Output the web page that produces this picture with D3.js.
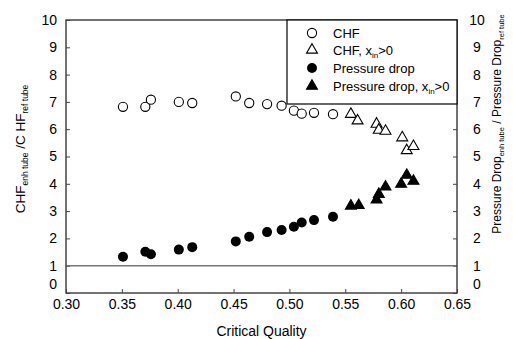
<!DOCTYPE html>
<html>
<head>
<meta charset="utf-8">
<script src="https://cdn.jsdelivr.net/npm/d3@7"></script>
<style>
  body { margin: 0; background: #fff; }
  text { font-family: "Liberation Sans", Arial, sans-serif; fill: #000; }
</style>
</head>
<body>
<div id="chart"></div>
<script>
// critical quality / ratio values
var chfQ = [0.351, 0.371, 0.376, 0.401, 0.413, 0.452, 0.464, 0.480, 0.493, 0.504, 0.511, 0.522, 0.539];
var chfV = [6.82, 6.82, 7.08, 7.00, 6.96, 7.20, 6.96, 6.92, 6.86, 6.68, 6.57, 6.60, 6.55];
var chfInQ = [0.555, 0.561, 0.578, 0.580, 0.586, 0.601, 0.605, 0.611];
var chfInV = [6.55, 6.31, 6.19, 5.97, 5.93, 5.69, 5.22, 5.37];
var dpQ = [0.351, 0.371, 0.376, 0.401, 0.413, 0.452, 0.464, 0.480, 0.493, 0.504, 0.511, 0.522, 0.539];
var dpV = [1.33, 1.51, 1.42, 1.59, 1.68, 1.89, 2.06, 2.23, 2.31, 2.43, 2.58, 2.67, 2.79];
var dpInQ = [0.555, 0.562, 0.578, 0.580, 0.586, 0.600, 0.605, 0.611];
var dpInV = [3.19, 3.21, 3.41, 3.62, 3.89, 3.99, 4.32, 4.10];
var xTicks = [0.30, 0.35, 0.40, 0.45, 0.50, 0.55, 0.60, 0.65];
var yTicks = [0, 1, 2, 3, 4, 5, 6, 7, 8, 9, 10];
var legendLabels = ["CHF", "CHF, x", "Pressure drop", "Pressure drop, x"];

var width = 513, height = 339;
var margin = { left: 66, right: 56, top: 20, bottom: 46 };

var svg = d3.select("#chart").append("svg")
  .attr("width", width)
  .attr("height", height);

var xScale = d3.scaleLinear().domain([0.30, 0.65]).range([margin.left, width - margin.right]);
var yScale = d3.scaleLinear().domain([0, 10]).range([height - margin.bottom, margin.top]);

var axisColor = "#444";

/* axes, ticks point inward */
var xAxis = d3.axisBottom(xScale).tickValues(xTicks).tickFormat(d3.format(".2f")).tickSizeInner(-4).tickSizeOuter(0).tickPadding(6);
var yLeft = d3.axisLeft(yScale).tickValues(yTicks).tickSizeInner(-4).tickSizeOuter(0).tickPadding(9);
var yRight = d3.axisRight(yScale).tickValues(yTicks).tickSizeInner(-4).tickSizeOuter(0).tickPadding(14);

function styleAxis(g) {
  g.select(".domain").remove();
  g.selectAll(".tick line").attr("stroke", axisColor);
  g.selectAll(".tick text").style("font-size", "14px").style("font-family", "Liberation Sans, Arial, sans-serif");
  // the zero label sits a little above its tick so it clears the x labels
  g.selectAll(".tick").filter(d => d === 0).select("text").attr("dy", "-0.3em");
}

svg.append("g").attr("transform", `translate(0, ${yScale(0)})`).call(xAxis).call(g => {
  g.select(".domain").remove();
  g.selectAll(".tick line").attr("stroke", axisColor);
  g.selectAll(".tick text").style("font-size", "14px");
});
svg.append("g").attr("transform", `translate(${xScale(0.30)}, 0)`).call(yLeft).call(styleAxis);
svg.append("g").attr("transform", `translate(${xScale(0.65)}, 0)`).call(yRight).call(styleAxis)
  .selectAll(".tick text").attr("text-anchor", "middle").attr("x", 20);

/* reference line at ratio 1 */
svg.append("line")
  .attr("x1", xScale(0.30)).attr("x2", xScale(0.65))
  .attr("y1", yScale(1)).attr("y2", yScale(1))
  .attr("stroke", "#777").attr("stroke-width", 1.5);

/* frame */
svg.append("rect")
  .attr("x", xScale(0.30)).attr("y", yScale(10))
  .attr("width", xScale(0.65) - xScale(0.30))
  .attr("height", yScale(0) - yScale(10))
  .attr("fill", "none").attr("stroke", axisColor).attr("stroke-width", 1.5);

/* data points */
var tri = d3.symbol().type(d3.symbolTriangle).size(52);

function circles(qs, vs, filled) {
  svg.append("g").selectAll("circle")
    .data(qs.map((q, i) => ({ q: q, v: vs[i] })))
    .enter().append("circle")
    .attr("cx", d => xScale(d.q))
    .attr("cy", d => yScale(d.v))
    .attr("r", filled ? 5 : 4.6)
    .attr("fill", filled ? "#000" : "#fff")
    .attr("stroke", "#000")
    .attr("stroke-width", filled ? 0 : 1.1);
}

function triangles(qs, vs, filled) {
  svg.append("g").selectAll("path")
    .data(qs.map((q, i) => ({ q: q, v: vs[i] })))
    .enter().append("path")
    .attr("d", tri)
    .attr("transform", d => `translate(${xScale(d.q)}, ${yScale(d.v)})`)
    .attr("fill", filled ? "#000" : "#fff")
    .attr("stroke", "#000")
    .attr("stroke-width", 1.1);
}

circles(chfQ, chfV, false);
triangles(chfInQ, chfInV, false);
circles(dpQ, dpV, true);
triangles(dpInQ, dpInV, true);

/* legend */
var legend = svg.append("g");
legend.append("rect")
  .attr("x", 287).attr("y", yScale(10))
  .attr("width", xScale(0.65) - 287).attr("height", 84)
  .attr("fill", "#fff").attr("stroke", "#000").attr("stroke-width", 1.2);

var rowY = [33, 50, 68, 86];
legend.append("circle").attr("cx", 312).attr("cy", rowY[0]).attr("r", 4.6)
  .attr("fill", "#fff").attr("stroke", "#000").attr("stroke-width", 1.1);
legend.append("path").attr("d", tri).attr("transform", `translate(312, ${rowY[1]})`)
  .attr("fill", "#fff").attr("stroke", "#000").attr("stroke-width", 1.1);
legend.append("circle").attr("cx", 312).attr("cy", rowY[2]).attr("r", 5).attr("fill", "#000");
legend.append("path").attr("d", tri).attr("transform", `translate(312, ${rowY[3]})`)
  .attr("fill", "#000").attr("stroke", "#000").attr("stroke-width", 1.1);

legendLabels.forEach((lab, i) => {
  var t = legend.append("text")
    .attr("x", 333).attr("y", rowY[i] + 5)
    .style("font-size", "13px");
  t.append("tspan").text(lab);
  if (i % 2 === 1) {
    t.append("tspan").attr("dy", 3).style("font-size", "8px").text("in");
    t.append("tspan").attr("dy", -3).text(">0");
  }
});

/* axis titles */
svg.append("text")
  .attr("x", (xScale(0.30) + xScale(0.65)) / 2).attr("y", 336)
  .attr("text-anchor", "middle")
  .style("font-size", "14px")
  .text("Critical Quality");

var leftTitle = svg.append("text")
  .attr("transform", "translate(25, 149) rotate(-90)")
  .attr("text-anchor", "middle")
  .style("font-size", "13.5px");
leftTitle.append("tspan").text("CHF");
leftTitle.append("tspan").attr("dy", 3).style("font-size", "8.5px").text("enh tube");
leftTitle.append("tspan").attr("dy", -3).text(" /C HF");
leftTitle.append("tspan").attr("dy", 3).style("font-size", "8.5px").text("ref tube");

var rightTitle = svg.append("text")
  .attr("transform", "translate(501, 124) rotate(-90)")
  .attr("text-anchor", "middle")
  .style("font-size", "12px");
rightTitle.append("tspan").text("Pressure Drop");
rightTitle.append("tspan").attr("dy", 3).style("font-size", "7.5px").text("enh tube");
rightTitle.append("tspan").attr("dy", -3).text(" / Pressure Drop");
rightTitle.append("tspan").attr("dy", 3).style("font-size", "7.5px").text("ref tube");
</script>
</body>
</html>
